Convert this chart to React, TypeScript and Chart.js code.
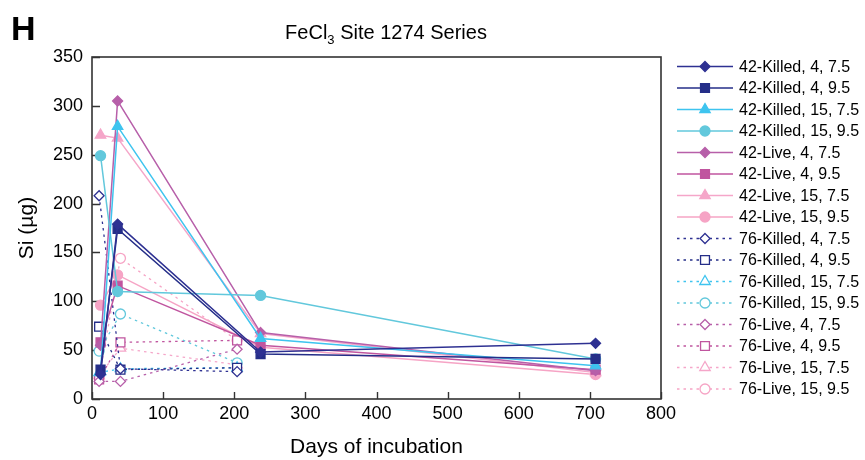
import React, { useEffect, useRef } from 'react';
import { Chart, registerables } from 'chart.js';

Chart.register(...registerables);

const FONT = '"Liberation Sans", Arial, Helvetica, sans-serif';

// Sampling days for the two sediment depths
const DAYS_42 = [12, 36, 237, 708];
const DAYS_76 = [10, 40, 204];

// Si (µg) — 42 series (solid lines, filled markers)
const K42_4_75 = [25, 179, 48, 57];
const K42_4_95 = [30, 174, 46, 41];
const K42_15_75 = [28, 279, 62, 34];
const K42_15_95 = [249, 110, 106, 41];
const L42_4_75 = [55, 305, 68, 29];
const L42_4_95 = [58, 116, 55, 30];
const L42_15_75 = [270, 267, 67, 27];
const L42_15_95 = [96, 127, 53, 25];

// Si (µg) — 76 series (dotted lines, open markers)
const K76_4_75 = [208, 31, 28];
const K76_4_95 = [74, 30, 32];
const K76_15_75 = [27, 31, 32];
const K76_15_95 = [49, 87, 37];
const L76_4_75 = [18, 18, 51];
const L76_4_95 = [20, 58, 60];
const L76_15_75 = [24, 52, 35];
const L76_15_95 = [22, 144, 60];

const X_TICKS = [0, 100, 200, 300, 400, 500, 600, 700, 800];
const Y_TICKS = [0, 50, 100, 150, 200, 250, 300, 350];

const NAVY_A = '#2e3192';
const NAVY_B = '#252e88';
const CYAN_A = '#3ec4ef';
const CYAN_B = '#62c8dc';
const MAG_A = '#b75fa9';
const MAG_B = '#c0559f';
const PINK_A = '#f5a6c9';
const PINK_B = '#f6a4c5';

type Marker = 'rectRot' | 'rect' | 'triangle' | 'circle';

interface Series {
  label: string;
  days: number[];
  values: number[];
  color: string;
  marker: Marker;
  open: boolean;
}

const SERIES: Series[] = [
  { label: '42-Killed, 4, 7.5', days: DAYS_42, values: K42_4_75, color: NAVY_A, marker: 'rectRot', open: false },
  { label: '42-Killed, 4, 9.5', days: DAYS_42, values: K42_4_95, color: NAVY_B, marker: 'rect', open: false },
  { label: '42-Killed, 15, 7.5', days: DAYS_42, values: K42_15_75, color: CYAN_A, marker: 'triangle', open: false },
  { label: '42-Killed, 15, 9.5', days: DAYS_42, values: K42_15_95, color: CYAN_B, marker: 'circle', open: false },
  { label: '42-Live, 4, 7.5', days: DAYS_42, values: L42_4_75, color: MAG_A, marker: 'rectRot', open: false },
  { label: '42-Live, 4, 9.5', days: DAYS_42, values: L42_4_95, color: MAG_B, marker: 'rect', open: false },
  { label: '42-Live, 15, 7.5', days: DAYS_42, values: L42_15_75, color: PINK_A, marker: 'triangle', open: false },
  { label: '42-Live, 15, 9.5', days: DAYS_42, values: L42_15_95, color: PINK_B, marker: 'circle', open: false },
  { label: '76-Killed, 4, 7.5', days: DAYS_76, values: K76_4_75, color: NAVY_A, marker: 'rectRot', open: true },
  { label: '76-Killed, 4, 9.5', days: DAYS_76, values: K76_4_95, color: NAVY_B, marker: 'rect', open: true },
  { label: '76-Killed, 15, 7.5', days: DAYS_76, values: K76_15_75, color: CYAN_A, marker: 'triangle', open: true },
  { label: '76-Killed, 15, 9.5', days: DAYS_76, values: K76_15_95, color: CYAN_B, marker: 'circle', open: true },
  { label: '76-Live, 4, 7.5', days: DAYS_76, values: L76_4_75, color: MAG_A, marker: 'rectRot', open: true },
  { label: '76-Live, 4, 9.5', days: DAYS_76, values: L76_4_95, color: MAG_B, marker: 'rect', open: true },
  { label: '76-Live, 15, 7.5', days: DAYS_76, values: L76_15_75, color: PINK_A, marker: 'triangle', open: true },
  { label: '76-Live, 15, 9.5', days: DAYS_76, values: L76_15_95, color: PINK_B, marker: 'circle', open: true },
];

const MARKER_RADIUS: Record<Marker, number> = {
  rectRot: 5,
  rect: 6.3,
  triangle: 6,
  circle: 5,
};

const DOTTED = [2.5, 4];

function drawMarker(ctx: CanvasRenderingContext2D, m: Marker, x: number, y: number, r: number) {
  ctx.beginPath();
  if (m === 'circle') {
    ctx.arc(x, y, r, 0, Math.PI * 2);
  } else if (m === 'rect') {
    const s = r * Math.SQRT1_2;
    ctx.rect(x - s, y - s, 2 * s, 2 * s);
  } else if (m === 'rectRot') {
    ctx.moveTo(x, y - r);
    ctx.lineTo(x + r, y);
    ctx.lineTo(x, y + r);
    ctx.lineTo(x - r, y);
    ctx.closePath();
  } else {
    for (let k = 0; k < 3; k++) {
      const a = (k * 2 * Math.PI) / 3;
      const px = x + Math.sin(a) * r;
      const py = y - Math.cos(a) * r;
      if (k === 0) ctx.moveTo(px, py);
      else ctx.lineTo(px, py);
    }
    ctx.closePath();
  }
}

// Frame, inward ticks, panel letter, title and legend
const decorations = {
  id: 'decorations',
  beforeDatasetsDraw(chart: any) {
    const { ctx, chartArea } = chart;
    const { left, right, top, bottom } = chartArea;
    const xs = chart.scales.x;
    const ys = chart.scales.y;
    ctx.save();
    ctx.strokeStyle = '#333333';
    ctx.lineWidth = 1.6;
    ctx.strokeRect(left, top, right - left, bottom - top);
    ctx.lineWidth = 1.4;
    ctx.beginPath();
    X_TICKS.forEach((v) => {
      const px = Math.round(xs.getPixelForValue(v)) + 0.5;
      ctx.moveTo(px, bottom);
      ctx.lineTo(px, bottom - 7);
    });
    Y_TICKS.forEach((v) => {
      const py = Math.round(ys.getPixelForValue(v)) + 0.5;
      ctx.moveTo(left, py);
      ctx.lineTo(left + 8, py);
    });
    ctx.stroke();
    ctx.restore();
  },
  afterDraw(chart: any) {
    const { ctx } = chart;
    ctx.save();
    ctx.fillStyle = '#000';
    ctx.textBaseline = 'alphabetic';
    ctx.textAlign = 'left';

    // Panel letter
    ctx.font = `bold 34px ${FONT}`;
    ctx.fillText('H', 11, 40);

    // Title with subscript
    const big = `20px ${FONT}`;
    const small = `13px ${FONT}`;
    const partA = 'FeCl';
    const sub = '3';
    const partB = ' Site 1274 Series';
    ctx.font = big;
    const wA = ctx.measureText(partA).width;
    const wB = ctx.measureText(partB).width;
    ctx.font = small;
    const wS = ctx.measureText(sub).width;
    const total = wA + wS + wB;
    let tx = 386 - total / 2;
    const base = 39;
    ctx.font = big;
    ctx.fillText(partA, tx, base);
    tx += wA;
    ctx.font = small;
    ctx.fillText(sub, tx, base + 5);
    tx += wS;
    ctx.font = big;
    ctx.fillText(partB, tx, base);

    // Legend
    const lx0 = 677;
    const lx1 = 733;
    const mx = 705;
    const ty = 66.5;
    const step = 21.5;
    ctx.font = `16px ${FONT}`;
    ctx.textBaseline = 'middle';
    SERIES.forEach((s, i) => {
      const y = ty + i * step;
      ctx.strokeStyle = s.color;
      ctx.lineWidth = s.open ? 1.3 : 1.5;
      ctx.setLineDash(s.open ? DOTTED : []);
      ctx.beginPath();
      ctx.moveTo(lx0, y);
      ctx.lineTo(lx1, y);
      ctx.stroke();
      ctx.setLineDash([]);
      const r = MARKER_RADIUS[s.marker];
      drawMarker(ctx, s.marker, mx, y, r);
      ctx.fillStyle = s.open ? '#ffffff' : s.color;
      ctx.fill();
      ctx.lineWidth = 1.3;
      ctx.stroke();
      ctx.fillStyle = '#000';
      ctx.fillText(s.label, 739, y + 1);
    });
    ctx.restore();
  },
};

export default function App() {
  const canvasRef = useRef<HTMLCanvasElement | null>(null);

  useEffect(() => {
    const canvas = canvasRef.current;
    if (!canvas) return;

    const datasets = SERIES.map((s) => ({
      label: s.label,
      data: s.days.map((d, i) => ({ x: d, y: s.values[i] })),
      showLine: true,
      borderColor: s.color,
      backgroundColor: s.open ? '#ffffff' : s.color,
      borderWidth: s.open ? 1.3 : 1.5,
      borderDash: s.open ? DOTTED : [],
      pointStyle: s.marker,
      pointRadius: MARKER_RADIUS[s.marker],
      pointBorderWidth: 1.3,
      pointBorderColor: s.color,
      pointBackgroundColor: s.open ? '#ffffff' : s.color,
      tension: 0,
      clip: false as any,
    }));

    const chart = new Chart(canvas, {
      type: 'scatter',
      data: { datasets },
      options: {
        animation: false,
        responsive: false,
        devicePixelRatio: 1,
        events: [],
        layout: { padding: { left: 0, top: 57, right: 204, bottom: 0 } },
        plugins: {
          legend: { display: false },
          title: { display: false },
          tooltip: { enabled: false },
        },
        scales: {
          x: {
            type: 'linear',
            min: 0,
            max: 800,
            afterBuildTicks: (scale: any) => {
              scale.ticks = X_TICKS.map((v) => ({ value: v }));
            },
            afterFit: (scale: any) => {
              scale.height = 61;
            },
            ticks: {
              font: { family: FONT, size: 18 },
              color: '#000',
              padding: 4,
              maxRotation: 0,
              autoSkip: false,
            },
            grid: { display: false, drawTicks: false },
            border: { display: false },
            title: {
              display: true,
              text: 'Days of incubation',
              font: { family: FONT, size: 21 },
              color: '#000',
              padding: { top: 0, bottom: 0 },
            },
          },
          y: {
            type: 'linear',
            min: 0,
            max: 350,
            afterBuildTicks: (scale: any) => {
              scale.ticks = Y_TICKS.map((v) => ({ value: v }));
            },
            afterFit: (scale: any) => {
              scale.width = 92;
            },
            ticks: {
              font: { family: FONT, size: 18 },
              color: '#000',
              padding: 9,
              autoSkip: false,
            },
            grid: { display: false, drawTicks: false },
            border: { display: false },
            title: {
              display: true,
              text: 'Si (µg)',
              font: { family: FONT, size: 21 },
              color: '#000',
              padding: { top: 15, bottom: 0 },
            },
          },
        },
      },
      plugins: [decorations],
    });

    return () => {
      chart.destroy();
    };
  }, []);

  return (
    <div style={{ position: 'absolute', left: 0, top: 0, width: 865, height: 460, background: '#fff' }}>
      <canvas ref={canvasRef} width={865} height={460} style={{ display: 'block', width: 865, height: 460 }} />
    </div>
  );
}
